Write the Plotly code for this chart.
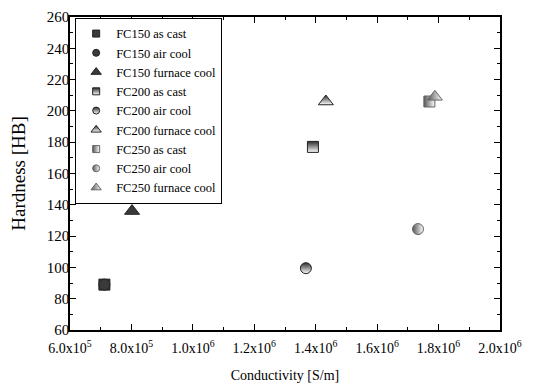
import plotly.graph_objects as go

# Data
series_names = [
    "FC150 as cast", "FC150 air cool", "FC150 furnace cool",
    "FC200 as cast", "FC200 air cool", "FC200 furnace cool",
    "FC250 as cast", "FC250 air cool", "FC250 furnace cool",
]
conductivity = [7.12e5, 7.12e5, 8.02e5, 1.391e6, 1.368e6, 1.433e6, 1.770e6, 1.733e6, 1.788e6]
hardness = [89, 89, 136, 177, 99.5, 206, 206, 124.5, 209]

x_tickvals = [6e5, 8e5, 1e6, 1.2e6, 1.4e6, 1.6e6, 1.8e6, 2e6]
x_ticktext = ["6.0x10<sup>5</sup>", "8.0x10<sup>5</sup>", "1.0x10<sup>6</sup>", "1.2x10<sup>6</sup>",
              "1.4x10<sup>6</sup>", "1.6x10<sup>6</sup>", "1.8x10<sup>6</sup>", "2.0x10<sup>6</sup>"]

symbols = ["square", "circle", "triangle-up"] * 3
sizes = [11, 11, 13, 11, 11, 13, 11, 11, 13]
legend_sizes = [7, 7, 9, 7, 7, 9, 7, 7, 9]
dark = "#3a3a3a"


def make_marker(i, size):
    group = i // 3
    if group == 0:
        return dict(symbol=symbols[i], size=size, color=dark,
                    line=dict(color="#222222", width=1))
    if group == 1:
        return dict(symbol=symbols[i], size=size, color="#2a2a2a",
                    gradient=dict(type="vertical", color="white"),
                    line=dict(color="#222222", width=1))
    return dict(symbol=symbols[i], size=size, color="#555555",
                gradient=dict(type="horizontal", color="white"),
                line=dict(color="#666666", width=1))


fig = go.Figure()
for i in range(len(series_names)):
    fig.add_trace(go.Scatter(
        x=[conductivity[i]], y=[hardness[i]], mode="markers", name=series_names[i],
        marker=make_marker(i, sizes[i]), showlegend=False,
    ))
# legend entries with smaller symbols
for i, name in enumerate(series_names):
    fig.add_trace(go.Scatter(
        x=[None], y=[None], mode="markers", name=name,
        marker=make_marker(i, legend_sizes[i]), showlegend=True,
    ))

fig.update_layout(
    width=525, height=375,
    margin=dict(l=62, r=33, t=9, b=53),
    paper_bgcolor="white", plot_bgcolor="white",
    font=dict(family="Liberation Serif, Times New Roman, serif", size=14, color="black"),
    showlegend=True,
    legend=dict(x=0.012, y=0.997, xanchor="left", yanchor="top",
                bordercolor="black", borderwidth=1, bgcolor="white",
                font=dict(size=12.5), tracegroupgap=0, itemsizing="trace"),
    xaxis=dict(
        range=[6e5, 2e6], tickvals=x_tickvals, ticktext=x_ticktext,
        ticks="inside", ticklen=6, tickwidth=1, tickcolor="black",
        showline=True, linecolor="black", linewidth=1.5, mirror="ticks",
        showgrid=False, zeroline=False, automargin=False,
        minor=dict(ticks="inside", ticklen=3, tickcolor="black", dtick=1e5, showgrid=False),
        title=dict(text="Conductivity [S/m]", font=dict(size=14), standoff=16),
        tickfont=dict(size=14),
        ticklabelstandoff=4,
    ),
    yaxis=dict(
        range=[60, 260], dtick=20, tick0=60,
        ticks="inside", ticklen=6, tickwidth=1, tickcolor="black",
        showline=True, linecolor="black", linewidth=1.5, mirror="ticks",
        showgrid=False, zeroline=False, automargin=False,
        minor=dict(ticks="inside", ticklen=3, tickcolor="black", dtick=10, showgrid=False),
        title=dict(text="Hardness [HB]", font=dict(size=19), standoff=16),
        tickfont=dict(size=15),
        ticklabelstandoff=-4,
    ),
)

fig.write_html("out.html")
